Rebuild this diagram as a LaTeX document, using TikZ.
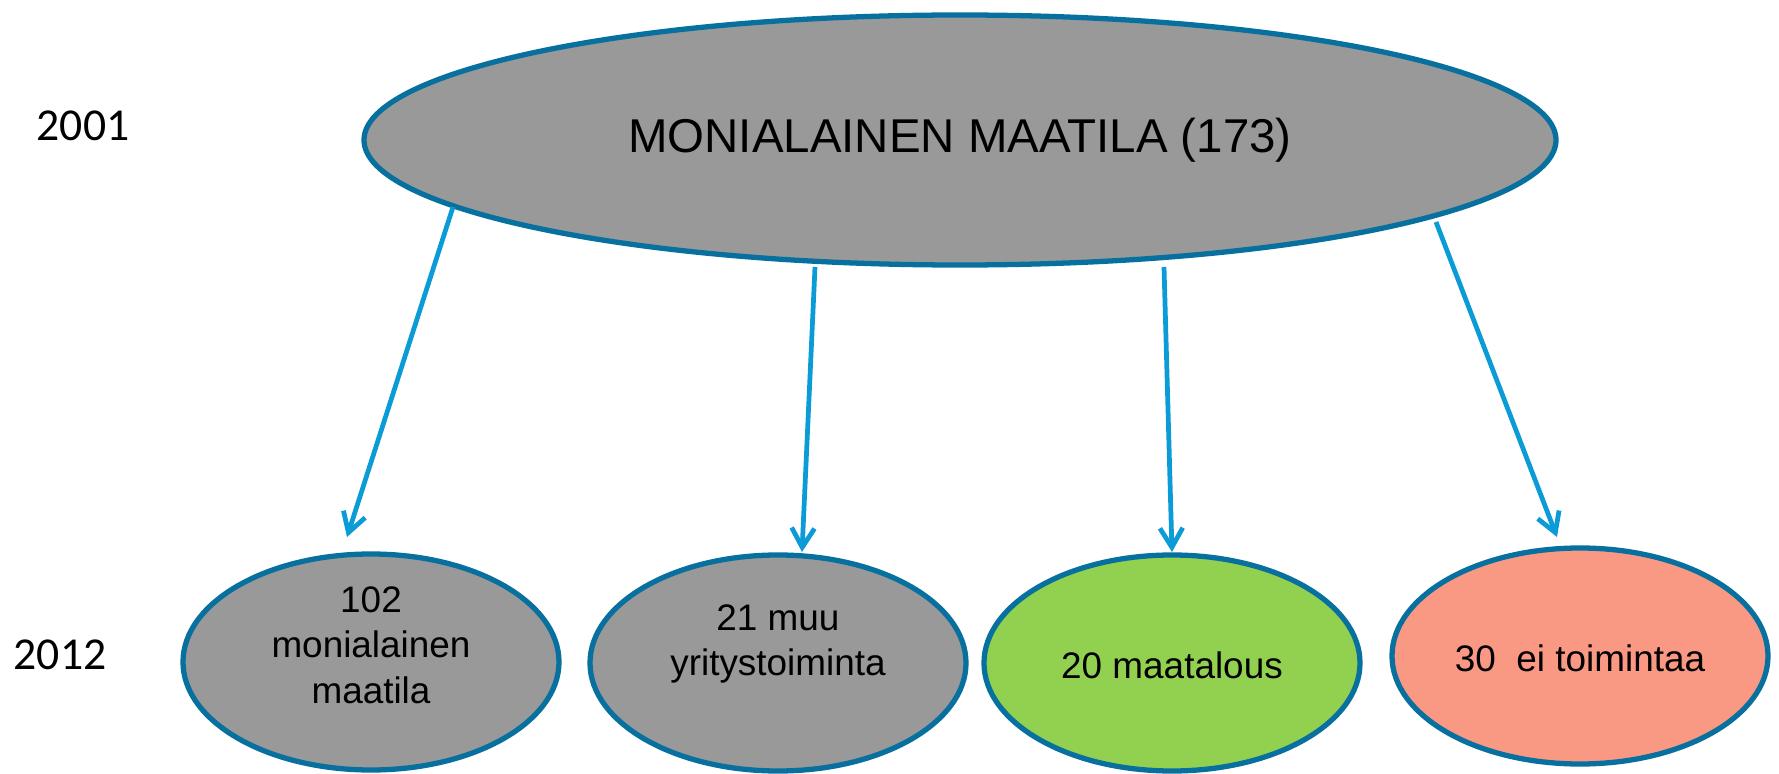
\documentclass[tikz,border=0pt]{standalone}
\usepackage{fontspec}
\setmainfont{Liberation Sans}
\newfontfamily\yearfont{Carlito}
\usetikzlibrary{shapes.geometric,arrows.meta}
\definecolor{edgeblue}{HTML}{08709F}
\definecolor{arrowblue}{HTML}{0B9BD6}
\definecolor{farmgray}{HTML}{999999}
\definecolor{farmgreen}{HTML}{92D050}
\definecolor{farmred}{HTML}{F99883}

\begin{document}
\begin{tikzpicture}[main/.style = {draw=edgeblue, line width=3pt, ellipse, inner sep=0pt, outer sep=0pt, minimum width=7.52cm, minimum height=4.32cm},
 txt/.style = {align=center, font=\fontsize{21}{26}\selectfont},
 year/.style = {font=\yearfont\fontsize{26}{30}\selectfont},
 arr/.style = {draw=arrowblue, line width=2.7pt, -{Straight Barb[length=11pt, width=13pt]}}]

\useasboundingbox (0,0) rectangle (35.58,-15.48);

\node[main, fill=farmgray, minimum width=23.84cm, minimum height=5cm, font=\fontsize{27}{32}\selectfont, xshift=19.2cm, yshift=-2.8cm] (0) {MONIALAINEN MAATILA (173)};
\node[year, xshift=1.66cm, yshift=-2.52cm] (y1) {2001};
\node[year, xshift=1.2cm, yshift=-13.1cm] (y2) {2012};

\node[main, fill=farmgray, xshift=7.42cm, yshift=-13.24cm] (1) {};
\node[main, fill=farmgray, xshift=15.56cm, yshift=-13.26cm] (2) {};
\node[main, fill=farmgreen, xshift=23.44cm, yshift=-13.26cm] (3) {};
\node[main, fill=farmred, xshift=31.6cm, yshift=-13.12cm] (4) {};
\node[txt, xshift=7.42cm, yshift=-12.9cm] (t1) {102\\monialainen\\maatila};
\node[txt, xshift=15.56cm, yshift=-12.88cm] (t2) {21 muu\\yritystoiminta};
\node[txt, xshift=23.44cm, yshift=-13.3cm] (t3) {20 maatalous};
\node[txt, xshift=31.6cm, yshift=-13.16cm] (t4) {30\ \ ei toimintaa};

\draw[arr] ([xshift=1.78cm, yshift=-1.34cm]0.west) -- ([xshift=-0.48cm, yshift=0.34cm]1.north);
\draw[arr] ([xshift=-2.9cm, yshift=-0.04cm]0.south) -- ([xshift=0.48cm, yshift=0.06cm]2.north);
\draw[arr] ([xshift=4.08cm, yshift=-0.04cm]0.south) -- ([yshift=0.06cm]3.north);
\draw[arr] ([xshift=-2.4cm, yshift=-1.64cm]0.east) -- ([xshift=-0.46cm, yshift=0.22cm]4.north);

\end{tikzpicture}
\end{document}
